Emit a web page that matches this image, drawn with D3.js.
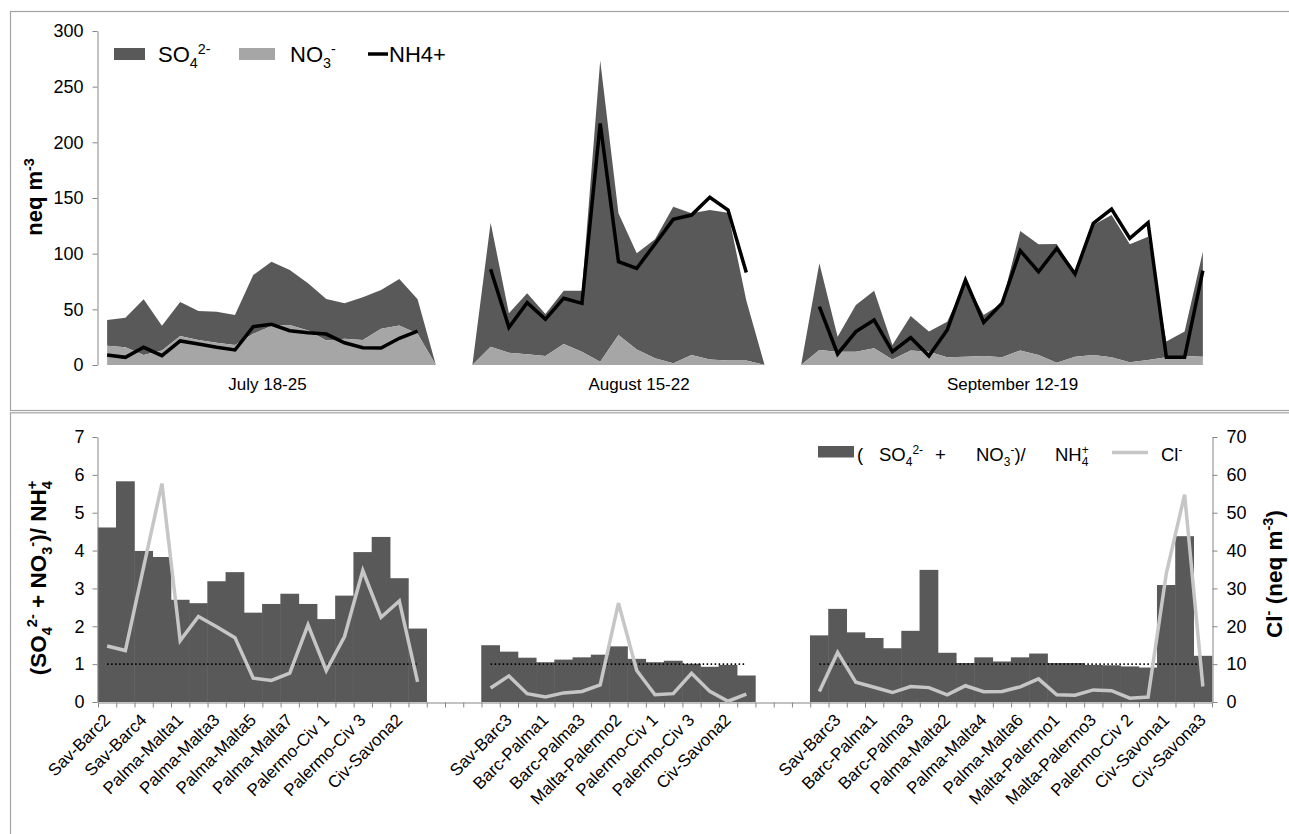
<!DOCTYPE html>
<html><head><meta charset="utf-8">
<script src="https://cdn.jsdelivr.net/npm/d3@7"></script>
<style>
html,body{margin:0;padding:0;background:#fff;}
svg{display:block;font-family:"Liberation Sans",Arial,Helvetica,sans-serif;}
</style></head>
<body><svg id="chart" width="1289" height="834"></svg>
<script>
// ---------------- DATA ----------------
const categories = [
  "Sav-Barc2","Sav-Barc3","Sav-Barc4","Barc-Palma1","Palma-Malta1","Palma-Malta2","Palma-Malta3","Palma-Malta4","Palma-Malta5","Palma-Malta6","Palma-Malta7","Malta-Palermo1","Palermo-Civ 1","Palermo-Civ 2","Palermo-Civ 3","Civ-Savona1","Civ-Savona2","Civ-Savona3",
  "","","",
  "Sav-Barc2","Sav-Barc3","Sav-Barc4","Barc-Palma1","Barc-Palma2","Barc-Palma3","Malta-Palermo1","Malta-Palermo2","Malta-Palermo3","Palermo-Civ 1","Palermo-Civ 2","Palermo-Civ 3","Civ-Savona1","Civ-Savona2","Civ-Savona3",
  "","","",
  "Sav-Barc2","Sav-Barc3","Sav-Barc4","Barc-Palma1","Barc-Palma2","Barc-Palma3","Palma-Malta1","Palma-Malta2","Palma-Malta3","Palma-Malta4","Palma-Malta5","Palma-Malta6","Palma-Malta7","Malta-Palermo1","Malta-Palermo2","Malta-Palermo3","Palermo-Civ 1","Palermo-Civ 2","Palermo-Civ 3","Civ-Savona1","Civ-Savona2","Civ-Savona3"
];
const groupLabels = ["July 18-25","August 15-22","September 12-19"];

// top panel (neq m-3): NO3- (lower, stacked first) and SO4 2- (stacked on top), NH4+ line
const no3 = [17.4,16,9,13,26,22.5,20,18,28,35,36,31,22,23.5,22.5,32.5,35.5,28,
  null,null,null,
  16.5,11,9.6,8,18.9,12,3,27,14,6,1.5,9,5,4,4,
  null,null,null,
  13.5,12,12,15,5,13,12,7,7.5,8,7,13,9,2,7.5,9,7,2.5,4.5,7,8,7.5];
const so4 = [23,26.5,50,22.3,30.6,26,27.9,26.9,52.8,57.8,49.3,42.4,37.3,31.9,38.3,34.9,41.7,31,
  null,null,null,
  111.3,35.4,54.8,37.8,47.9,54.8,270.4,109.2,86.3,106.9,140.7,127.2,134.2,132.8,54,
  null,null,null,
  77.8,13.4,41.9,51.8,13,31,18,31.9,67.5,37,48.4,107.4,99.4,106.7,75.5,116.7,127.7,105.9,110.8,14,22,94.3];
const nh4 = [9,6.9,15.9,8.4,21.6,18.9,15.9,13.5,34.4,36.5,30.8,29,27.8,20,15.6,15.3,24,30.5,
  null,null,null,
  86,33.8,56,41,60,55.4,217,92.8,86.8,108.7,130.8,134.7,150.6,139.2,83,
  null,null,null,
  52.4,9.9,30,40.4,12,24.6,8,31.4,76.3,38.3,55.4,102.7,83.8,104.8,81.7,127.2,140.1,113.8,127.8,6.9,6.9,84.7];

// bottom panel: (SO4+NO3)/NH4 ratio bars (left axis) and Cl- line (right axis)
const ratio = [4.61,5.83,3.99,3.83,2.70,2.61,3.19,3.43,2.36,2.59,2.86,2.59,2.19,2.81,3.96,4.36,3.27,1.94,
  null,null,null,
  1.50,1.33,1.17,1.05,1.12,1.18,1.25,1.47,1.14,1.05,1.09,1.01,0.93,0.98,0.70,
  null,null,null,
  1.76,2.46,1.84,1.69,1.42,1.88,3.49,1.30,1.03,1.18,1.07,1.18,1.28,1.03,1.03,0.98,0.97,0.94,0.91,3.09,4.38,1.22];
const chloride = [14.8,13.6,35.7,57.7,16.2,22.6,19.9,17.0,6.3,5.7,7.6,20.4,8.3,17.3,34.7,22.4,26.7,5.3,
  null,null,null,
  3.7,6.9,2.2,1.3,2.4,2.8,4.5,26.1,8.3,1.9,2.2,7.6,2.8,0.2,2.1,
  null,null,null,
  2.8,13.1,5.2,3.9,2.5,4.1,3.8,1.9,4.3,2.7,2.8,4.0,6.1,1.9,1.8,3.2,3.0,1.0,1.3,34,54.8,4.1];
const ratioReference = 1;
const topTicks = [0,50,100,150,200,250,300];
const leftTicks = [0,1,2,3,4,5,6,7];
const rightTicks = [0,10,20,30,40,50,60,70];

// ---------------- LAYOUT ----------------
const svg = d3.select("#chart");
const N = categories.length;
const X0 = 98, X1 = 1212;
const xBand = d3.scaleBand().domain(d3.range(N)).range([X0, X1]).padding(0);
const xLin = d3.scaleLinear().domain([0, N]).range([X0, X1]);
const cx = i => xBand(i) + xBand.bandwidth() / 2;
const groupLabelAt = [9.28, 29.63, 50.08];

const AX = "#868686";
const DARK = "#595959", LIGHT = "#a6a6a6", CL = "#c6c6c6";

// panel frames
svg.append("rect").attr("x",10.5).attr("y",11.5).attr("width",1300).attr("height",399)
  .attr("fill","none").attr("stroke","#a3a3a3").attr("stroke-width",1.2);
svg.append("rect").attr("x",10.5).attr("y",412.8).attr("width",1300).attr("height",440)
  .attr("fill","none").attr("stroke","#a3a3a3").attr("stroke-width",1.2);

function rich(parent, x, y, parts, size, weight, transform) {
  const t = parent.append("text").attr("x", x).attr("y", y)
    .style("font-size", size + "px").style("font-weight", weight || "normal").attr("fill","#000");
  if (transform) t.attr("transform", transform);
  let shift = 0;
  parts.forEach(([s, m]) => {
    const ts = t.append("tspan").text(s);
    const target = m === "sub" ? size * 0.28 : (m === "sup" || m === "supb") ? -size * 0.38 : 0;
    ts.attr("dy", target - shift); shift = target;
    if (m !== "n") ts.style("font-size", (size * 0.65) + "px");
    if (m === "supb") ts.attr("dx", -size * 0.65 * 0.556);
  });
  return t;
}
function styleAxis(g, fs) {
  g.select(".domain").attr("stroke", AX).attr("stroke-width", 1);
  g.selectAll(".tick line").attr("stroke", AX);
  g.selectAll(".tick text").attr("fill", "#000").style("font-size", fs + "px")
    .style("font-family", '"Liberation Sans",Arial,sans-serif');
}

// ---------------- TOP PANEL ----------------
const yTop = d3.scaleLinear().domain([0, 300]).range([365, 31]);
const rows = d3.range(N).map(i => ({ i, no3: no3[i] || 0, so4: so4[i] || 0 }));
const stacked = d3.stack().keys(["no3", "so4"])(rows);
const area = d3.area().x(d => cx(d.data.i)).y0(d => yTop(d[0])).y1(d => yTop(d[1]));
const gTop = svg.append("g");
gTop.append("path").datum(stacked[1]).attr("d", area).attr("fill", DARK);
gTop.append("path").datum(stacked[0]).attr("d", area).attr("fill", LIGHT);
const nh4Line = d3.line().defined(d => d != null).x((d, i) => cx(i)).y(d => yTop(d));
gTop.append("path").datum(nh4).attr("d", nh4Line).attr("fill", "none")
  .attr("stroke", "#000").attr("stroke-width", 3.5).attr("stroke-linejoin", "miter");

const gyTop = svg.append("g").attr("transform", `translate(${X0 - 0.5},0)`)
  .call(d3.axisLeft(yTop).tickValues(topTicks).tickSize(5).tickSizeOuter(0).tickPadding(9).tickFormat(d3.format("d")));
styleAxis(gyTop, 18);

groupLabels.forEach((lab, k) => {
  svg.append("text").attr("x", xLin(groupLabelAt[k])).attr("y", 390)
    .attr("text-anchor", "middle").style("font-size", "17px").text(lab);
});

rich(svg, 0, 0, [["neq m","n"],["-3","sup"]], 22, "bold", "translate(42,197) rotate(-90)")
  .attr("text-anchor", "middle");

// top legend
svg.append("rect").attr("x",114).attr("y",48).attr("width",31).attr("height",12).attr("fill",DARK);
rich(svg, 158, 62, [["SO","n"],["4","sub"],["2-","sup"]], 22);
svg.append("rect").attr("x",239).attr("y",48).attr("width",36).attr("height",12).attr("fill",LIGHT);
rich(svg, 290, 62, [["NO","n"],["3","sub"],["-","sup"]], 22);
svg.append("line").attr("x1",368).attr("x2",388).attr("y1",54).attr("y2",54)
  .attr("stroke","#000").attr("stroke-width",3.5);
rich(svg, 389, 62, [["NH4+","n"]], 22);

// ---------------- BOTTOM PANEL ----------------
const yL = d3.scaleLinear().domain([0, 7]).range([702, 437]);
const yR = d3.scaleLinear().domain([0, 70]).range([702, 437]);
const gBot = svg.append("g");
gBot.selectAll("rect.bar").data(ratio.map((v, i) => ({ v, i })).filter(d => d.v != null))
  .join("rect").attr("class", "bar")
  .attr("x", d => xBand(d.i) - 0.25).attr("width", xBand.bandwidth() + 0.5)
  .attr("y", d => yL(d.v)).attr("height", d => yL(0) - yL(d.v)).attr("fill", DARK);

const refLine = d3.line().defined(d => d != null).x((d, i) => cx(i)).y(() => yL(ratioReference));
gBot.append("path").datum(ratio).attr("d", refLine).attr("fill", "none")
  .attr("stroke", "#000").attr("stroke-width", 1.8).attr("stroke-dasharray", "1.5,2.5");

const clLine = d3.line().defined(d => d != null).x((d, i) => cx(i)).y(d => yR(d));
gBot.append("path").datum(chloride).attr("d", clLine).attr("fill", "none")
  .attr("stroke", CL).attr("stroke-width", 3.5).attr("stroke-linejoin", "miter");

const gyL = svg.append("g").attr("transform", `translate(${X0 - 0.5},0)`)
  .call(d3.axisLeft(yL).tickValues(leftTicks).tickSize(5).tickSizeOuter(0).tickPadding(8).tickFormat(d3.format("d")));
styleAxis(gyL, 18);
const gyR = svg.append("g").attr("transform", `translate(${X1 + 0.5},0)`)
  .call(d3.axisRight(yR).tickValues(rightTicks).tickSize(5).tickSizeOuter(0).tickPadding(9).tickFormat(d3.format("d")));
styleAxis(gyR, 18);

const gx = svg.append("g").attr("transform", "translate(0,702.5)")
  .call(d3.axisBottom(xLin).tickValues(d3.range(N + 1)).tickSize(5).tickSizeOuter(0).tickFormat(""));
styleAxis(gx, 15);

const gxl = svg.append("g").attr("transform", "translate(0,702)")
  .call(d3.axisBottom(xBand).tickSize(0).tickFormat(i => (i % 2 === 0 ? categories[i] : "")));
gxl.select(".domain").remove();
gxl.selectAll(".tick text").attr("x", 0).attr("y", 0).attr("dy", 0)
  .attr("text-anchor", "end").attr("transform", "translate(4,19) rotate(-45)")
  .attr("fill", "#000").style("font-size", "17px")
  .style("font-family", '"Liberation Sans",Arial,sans-serif');

rich(svg, 0, 0, [["(SO","n"],["4","sub"],["2-","sup"],[" + NO","n"],["3","sub"],["-","sup"],[")/ NH","n"],["4","sub"],["+","supb"]],
  22.5, "bold", "translate(46,578) rotate(-90)").attr("text-anchor", "middle");
rich(svg, 0, 0, [["Cl","n"],["-","sup"],[" (neq m","n"],["-3","sup"],[")","n"]],
  22.5, "bold", "translate(1282,574) rotate(-90)").attr("text-anchor", "middle");

// bottom legend
svg.append("rect").attr("x",818).attr("y",446).attr("width",36).attr("height",11.5).attr("fill",DARK);
rich(svg, 857, 461, [["(","n"]], 18.5);
rich(svg, 879, 461, [["SO","n"],["4","sub"],["2-","sup"]], 18.5);
rich(svg, 935, 461, [["+","n"]], 18.5);
rich(svg, 976, 461, [["NO","n"],["3","sub"],["-","sup"],[")/","n"]], 18.5);
rich(svg, 1055, 461, [["NH","n"],["4","sub"],["+","supb"]], 18.5);
svg.append("line").attr("x1",1112).attr("x2",1148).attr("y1",452.5).attr("y2",452.5)
  .attr("stroke",CL).attr("stroke-width",3.5);
rich(svg, 1161, 461, [["Cl","n"],["-","sup"]], 18.5);
</script></body></html>
